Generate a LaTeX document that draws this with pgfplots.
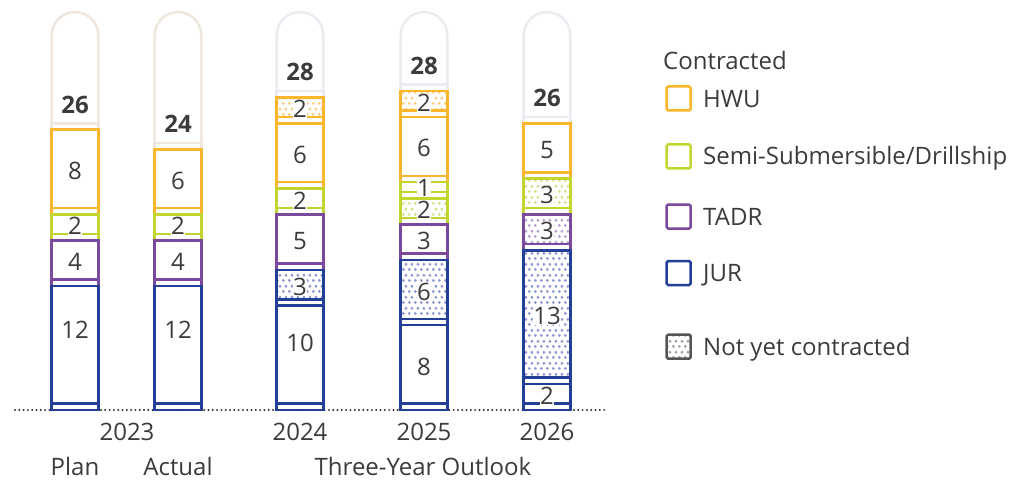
\documentclass[border=0pt]{standalone}
\usepackage{fontspec}
\setmainfont{Open Sans}
\usepackage{pgfplots}
\pgfplotsset{compat=1.18}
\usetikzlibrary{patterns.meta}

\definecolor{cHWU}{HTML}{FBB62B}
\definecolor{cSemi}{HTML}{C2D62F}
\definecolor{cTADR}{HTML}{7A4A9D}
\definecolor{cJUR}{HTML}{233F98}
\definecolor{dHWU}{HTML}{F8CF7E}
\definecolor{dSemi}{HTML}{D3E286}
\definecolor{dTADR}{HTML}{B89FCF}
\definecolor{dJUR}{HTML}{8E9AD0}
\definecolor{cCapA}{HTML}{EEE7DD}
\definecolor{cCapB}{HTML}{EDEAF1}
\definecolor{cText}{HTML}{3B3B3B}
\definecolor{cDot}{HTML}{2F2F2F}
\definecolor{cNYC}{HTML}{555555}
\definecolor{dNYC}{HTML}{A5A5A5}

\tikzdeclarepattern{
  name=bigdots, type=uncolored,
  bounding box={(0pt,0pt) and (6pt,11pt)},
  tile size={(6pt,11pt)},
  code={
    \pgfpathcircle{\pgfpoint{1.5pt}{2.75pt}}{1.75pt}
    \pgfpathcircle{\pgfpoint{4.5pt}{8.25pt}}{1.75pt}
    \pgfusepath{fill}
  }
}

\newcommand\lab{\fontsize{24}{29}\selectfont}

\pgfplotsset{
  base/.style={x=1pt, y=9.8pt, xmin=15, xmax=605, ymin=0, ymax=41.5,
    enlargelimits=false, clip=false, bar width=46.6pt,
    /pgf/number format/assume math mode=true},
  bx/.style={draw=#1, line width=2.5pt, fill=none},
  bxw/.style={draw=#1, line width=2.5pt, fill=white},
  bxp/.style 2 args={draw=#1, line width=2.5pt, pattern=bigdots, pattern color=#2},
  % nodes near coords are centred in stacked bars; #1 is a small extra shift
  lab/.style={nodes near coords, point meta=rawy,
    nodes near coords style={anchor=center, yshift=#1pt, font=\lab, text=cText, fill=white, inner sep=0.3pt}},
  lab/.default=-2,
  tot/.style={nodes near coords, point meta=explicit,
    nodes near coords style={anchor=center, yshift=22pt, font=\lab\bfseries, text=cText}},
}

\begin{document}
\begin{tikzpicture}
\useasboundingbox (-15pt,-70pt) rectangle (994pt,410pt);

% background caps, baseline and category labels
\begin{axis}[base, axis x line=bottom, axis y line=none,
  x axis line style={cDot, line width=2.2pt, dash pattern=on 0pt off 4.3pt, line cap=round, -},
  xtick={127,300,424,547}, xticklabels={2023,2024,2025,2026},
  extra x ticks={75,178,423}, extra x tick labels={Plan,Actual,Three-Year Outlook},
  major tick length=0pt,
  xticklabel style={anchor=base, yshift=-30.5pt, font=\lab, text=cText, inner sep=0pt},
  extra x tick style={xticklabel style={yshift=-35pt}},
  ybar, bar shift=0pt]
\addplot[draw=cCapA, line width=2.5pt, fill=white, rounded corners=23pt] coordinates {(75,40.6) (178,40.6)};
\addplot[draw=cCapB, line width=2.5pt, fill=white, rounded corners=23pt] coordinates {(300,40.6) (424,40.6) (547,40.6)};
\end{axis}

% 2023 Plan
\begin{axis}[base, hide axis, ybar stacked]
\addplot[bxw=cJUR] coordinates {(75,0.65)};
\addplot[bxw=cJUR, lab=15] coordinates {(75,12)};
\addplot[bx=cTADR] coordinates {(75,0.65)};
\addplot[bx=cTADR, lab] coordinates {(75,4)};
\addplot[bx=cSemi] coordinates {(75,0.65)};
\addplot[bx=cSemi, lab] coordinates {(75,2)};
\addplot[bx=cHWU] coordinates {(75,0.65)};
\addplot[bx=cHWU, lab] coordinates {(75,8)};
\addplot[bx=cCapA, tot] coordinates {(75,0.65) [26]};
\end{axis}

% 2023 Actual
\begin{axis}[base, hide axis, ybar stacked]
\addplot[bxw=cJUR] coordinates {(178,0.65)};
\addplot[bxw=cJUR, lab=15] coordinates {(178,12)};
\addplot[bx=cTADR] coordinates {(178,0.65)};
\addplot[bx=cTADR, lab] coordinates {(178,4)};
\addplot[bx=cSemi] coordinates {(178,0.65)};
\addplot[bx=cSemi, lab] coordinates {(178,2)};
\addplot[bx=cHWU] coordinates {(178,0.65)};
\addplot[bx=cHWU, lab] coordinates {(178,6)};
\addplot[bx=cCapA, tot] coordinates {(178,0.65) [24]};
\end{axis}

% 2024
\begin{axis}[base, hide axis, ybar stacked]
\addplot[bxw=cJUR] coordinates {(300,0.65)};
\addplot[bxw=cJUR, lab=12] coordinates {(300,10)};
\addplot[bx=cJUR] coordinates {(300,0.65)};
\addplot[bxp={cJUR}{dJUR}, lab] coordinates {(300,3)};
\addplot[bx=cTADR] coordinates {(300,0.65)};
\addplot[bx=cTADR, lab] coordinates {(300,5)};
\addplot[bx=cSemi] coordinates {(300,0.65)};
\addplot[bx=cSemi, lab] coordinates {(300,2)};
\addplot[bx=cHWU] coordinates {(300,0.65)};
\addplot[bx=cHWU, lab] coordinates {(300,6)};
\addplot[bx=cHWU] coordinates {(300,0.65)};
\addplot[bxp={cHWU}{dHWU}, lab] coordinates {(300,2)};
\addplot[bx=cCapB, tot] coordinates {(300,0.65) [28]};
\end{axis}

% 2025
\begin{axis}[base, hide axis, ybar stacked]
\addplot[bxw=cJUR] coordinates {(424,0.65)};
\addplot[bxw=cJUR, lab] coordinates {(424,8)};
\addplot[bx=cJUR] coordinates {(424,0.65)};
\addplot[bxp={cJUR}{dJUR}, lab] coordinates {(424,6)};
\addplot[bx=cTADR] coordinates {(424,0.65)};
\addplot[bx=cTADR, lab] coordinates {(424,3)};
\addplot[bx=cSemi] coordinates {(424,0.65)};
\addplot[bxp={cSemi}{dSemi}, lab] coordinates {(424,2)};
\addplot[bx=cSemi] coordinates {(424,0.65)};
\addplot[bx=cSemi, lab=-1] coordinates {(424,1)};
\addplot[bx=cHWU] coordinates {(424,0.65)};
\addplot[bx=cHWU, lab] coordinates {(424,6)};
\addplot[bx=cHWU] coordinates {(424,0.65)};
\addplot[bxp={cHWU}{dHWU}, lab] coordinates {(424,2)};
\addplot[bx=cCapB, tot] coordinates {(424,0.65) [28]};
\end{axis}

% 2026
\begin{axis}[base, hide axis, ybar stacked]
\addplot[bxw=cJUR] coordinates {(547,0.65)};
\addplot[bxw=cJUR, lab] coordinates {(547,2)};
\addplot[bx=cJUR] coordinates {(547,0.65)};
\addplot[bxp={cJUR}{dJUR}, lab] coordinates {(547,13)};
\addplot[bx=cTADR] coordinates {(547,0.65)};
\addplot[bxp={cTADR}{dTADR}, lab] coordinates {(547,3)};
\addplot[bx=cSemi] coordinates {(547,0.65)};
\addplot[bxp={cSemi}{dSemi}, lab] coordinates {(547,3)};
\addplot[bx=cHWU] coordinates {(547,0.65)};
\addplot[bx=cHWU, lab] coordinates {(547,5)};
\addplot[bx=cCapB, tot] coordinates {(547,0.65) [26]};
\end{axis}

% legend
\begin{scope}[every node/.style={font=\lab, text=cText, inner sep=0pt, anchor=base west}]
\node at (648pt,340pt) {Contracted};
\draw[cHWU, line width=2.5pt, rounded corners=1.5pt] (651.7pt,299.5pt) rectangle (675.7pt,323.5pt);
\node at (688pt,302pt) {HWU};
\draw[cSemi, line width=2.5pt, rounded corners=1.5pt] (651.7pt,241.5pt) rectangle (675.7pt,265.5pt);
\node at (688pt,245pt) {Semi-Submersible/Drillship};
\draw[cTADR, line width=2.5pt, rounded corners=1.5pt] (651.7pt,181.5pt) rectangle (675.7pt,205.5pt);
\node at (688pt,185pt) {TADR};
\draw[cJUR, line width=2.5pt, rounded corners=1.5pt] (651.7pt,125pt) rectangle (675.7pt,149pt);
\node at (688pt,128.3pt) {JUR};
\draw[cNYC, line width=2.5pt, rounded corners=1.5pt, pattern=bigdots, pattern color=dNYC] (651.7pt,51.3pt) rectangle (675.7pt,75.3pt);
\node at (688pt,55pt) {Not yet contracted};
\end{scope}
\end{tikzpicture}
\end{document}
